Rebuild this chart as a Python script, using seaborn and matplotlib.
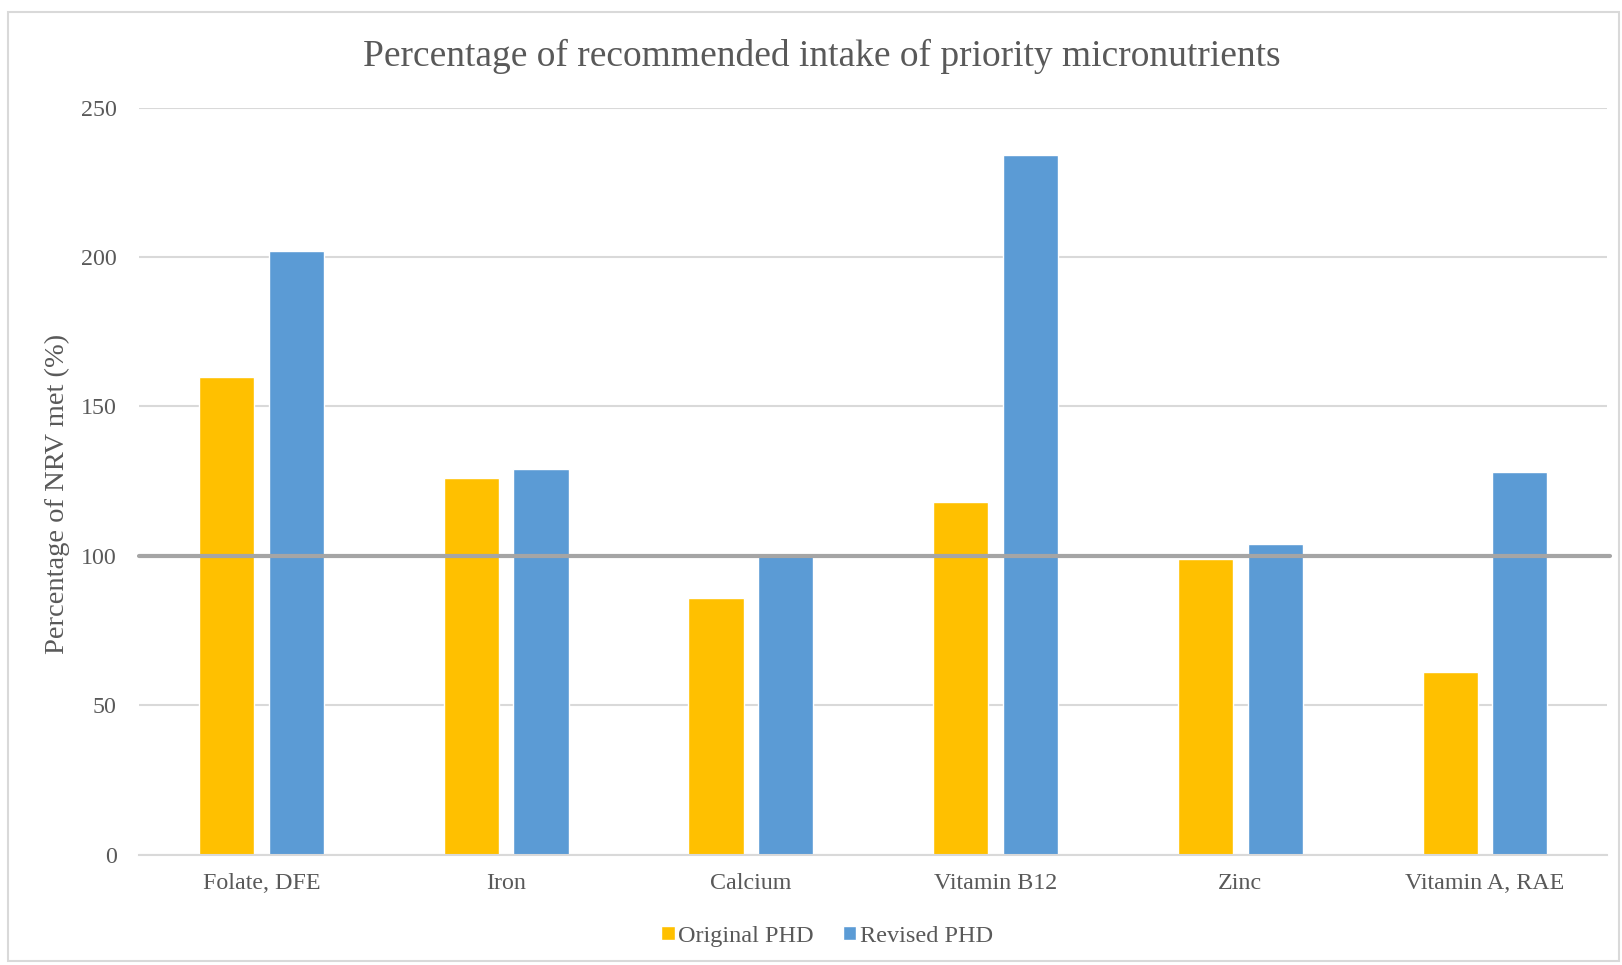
import pandas as pd
import matplotlib.pyplot as plt
import seaborn as sns
from matplotlib.patches import Rectangle

nutrients = ['Folate, DFE', 'Iron', 'Calcium', 'Vitamin B12', 'Zinc', 'Vitamin A, RAE']
original_phd = [160, 126, 86, 118, 99, 61]
revised_phd = [202, 129, 100, 234, 104, 128]
series = ['Original PHD', 'Revised PHD']
colors = ['#FFC000', '#5B9BD5']

df = pd.DataFrame({
    'Nutrient': nutrients * 2,
    'Diet': [series[0]] * len(nutrients) + [series[1]] * len(nutrients),
    'Value': original_phd + revised_phd,
})

sns.set_style('white')
plt.rcParams['font.family'] = ['Liberation Serif', 'DejaVu Serif']
text_color = '#595959'

fig = plt.figure(figsize=(16.22, 9.65), dpi=100)
ax = fig.add_axes([0.0857, 0.1144, 0.9053, 0.7741])

sns.barplot(data=df, x='Nutrient', y='Value', hue='Diet', palette=colors,
            width=0.57, gap=0.21, ax=ax, saturation=1, legend=True)

ax.set_ylim(0, 250)
ax.set_yticks([0, 50, 100, 150, 200, 250])
ax.yaxis.grid(True, color='#D9D9D9', linewidth=1.5)
ax.set_axisbelow(True)
for s in ['top', 'right', 'left']:
    ax.spines[s].set_visible(False)
ax.spines['bottom'].set_color('#D9D9D9')
ax.spines['bottom'].set_linewidth(1.5)
ax.tick_params(axis='both', length=0, labelsize=17.3, colors=text_color)
ax.tick_params(axis='y', pad=16)
ax.tick_params(axis='x', pad=13.5)
ax.set_xlabel('')
ax.set_ylabel('Percentage of NRV met (%)', fontsize=20.5, color=text_color)
ax.yaxis.set_label_coords(-0.047, 0.4826)

# reference line at 100%
ax.axhline(100, color='#A5A5A5', linewidth=3, xmin=0, xmax=1.002, clip_on=False, zorder=5)

fig.text(0.5065, 0.942, 'Percentage of recommended intake of priority micronutrients',
         ha='center', va='center', fontsize=27, color=text_color)

ax.legend(loc='center', bbox_to_anchor=(0.4687, -0.109),
          ncol=2, frameon=False, fontsize=17.5, labelcolor=text_color,
          handlelength=0.55, handleheight=0.55, handletextpad=0.15, columnspacing=1.2)

fig.patches.append(Rectangle((0.005, 0.004), 0.993, 0.984, transform=fig.transFigure,
                             fill=False, edgecolor='#D9D9D9', linewidth=1.5))

fig.savefig('out.png', dpi=100, facecolor='white')
